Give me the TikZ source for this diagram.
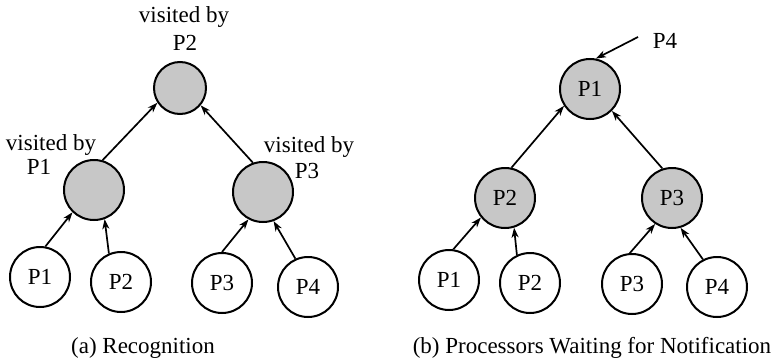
\documentclass[tikz,border=0pt]{standalone}
\usepackage{fontspec}
\setmainfont{Liberation Serif}
\usetikzlibrary{arrows.meta}
\begin{document}
\begin{tikzpicture}[x=1pt,y=-1pt,
  every node/.style={font=\fontsize{23}{27}\selectfont},
  leaf/.style={circle,draw,line width=2pt,minimum size=60pt,inner sep=0pt},
  inner/.style={circle,draw,line width=2pt,fill=black!22,minimum size=60pt,inner sep=0pt},
  lbl/.style={anchor=base,inner sep=0pt},
  arr/.style={line width=1.7pt,-{Stealth[length=10pt,width=7pt,inset=3pt]}}]
\useasboundingbox (0,0) rectangle (774,364);
% ---- (a)
\node[inner,minimum size=52pt] (at) at (180,88) {};
\node[inner] (aml) at (94,190) {};
\node[inner] (amr) at (263,192) {};
\node[leaf] (al1) at (40,277) {P1};
\node[leaf] (al2) at (121,282) {P2};
\node[leaf] (al3) at (222,283) {P3};
\node[leaf] (al4) at (308,287) {P4};
\draw[arr] (al1.80) -- (aml.226);
\draw[arr] (al2.113) -- (aml.290);
\draw[arr] (al3.90) -- (amr.242);
\draw[arr] (al4.114) -- (amr.290);
\draw[arr] (aml.74) -- (at.213);
\draw[arr] (amr.109) -- (at.320);
\node[lbl] (tv1) at (184,23) {visited by};
\node[lbl] (tv2) at (185,50) {P2};
\node[lbl] (lv1) at (51,150) {visited by};
\node[lbl] (lv2) at (39,174) {P1};
\node[lbl] (rv1) at (309,152) {visited by};
\node[lbl] (rv2) at (307,178) {P3};
\node[lbl] (capa) at (143,353) {(a) Recognition};
% ---- (b)
\node[inner] (bt) at (590,89) {P1};
\node[inner] (bml) at (505,198) {P2};
\node[inner] (bmr) at (672,198) {P3};
\node[leaf] (bl1) at (449,280) {P1};
\node[leaf] (bl2) at (530,283) {P2};
\node[leaf] (bl3) at (632,284) {P3};
\node[leaf] (bl4) at (717,287) {P4};
\draw[arr] (bl1.82) -- (bml.219);
\draw[arr] (bl2.115) -- (bml.287);
\draw[arr] (bl3.94) -- (bmr.237);
\draw[arr] (bl4.117) -- (bmr.286);
\draw[arr] (bml.78) -- (bt.213);
\draw[arr] (bmr.108) -- (bt.315);
\coordinate (p4s) at (638,37);
\draw[arr] (p4s) -- (bt.79);
\node[lbl] (p4) at (665,48) {P4};
\node[lbl] (capb) at (592,353) {(b) Processors Waiting for Notification};
\end{tikzpicture}
\end{document}
